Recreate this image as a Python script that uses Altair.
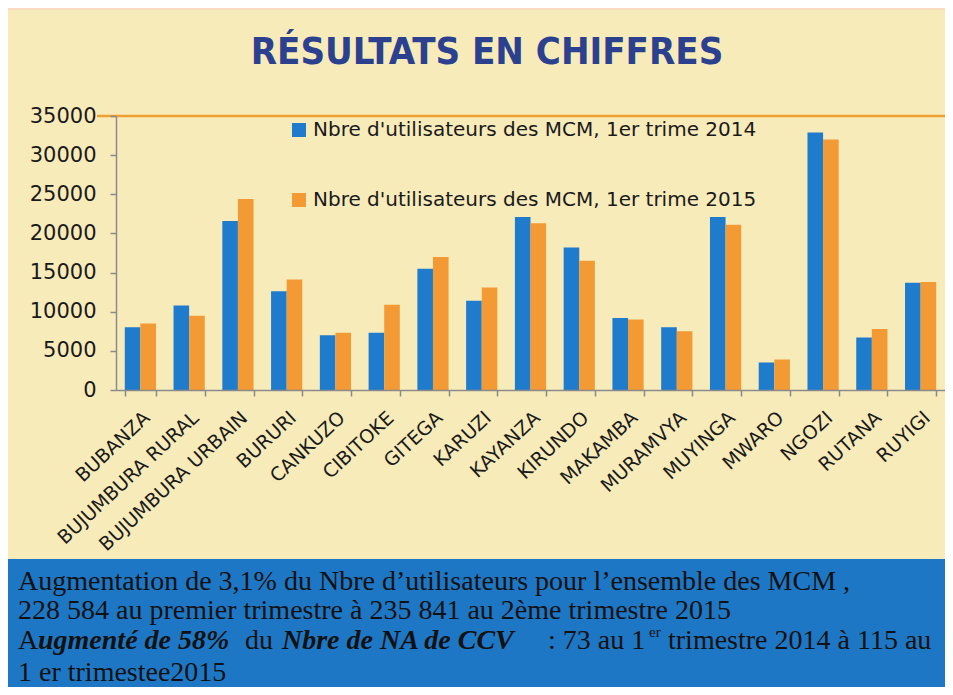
import altair as alt
import pandas as pd

# ---------------- data ----------------
REGIONS = ["BUBANZA", "BUJUMBURA RURAL", "BUJUMBURA URBAIN", "BURURI", "CANKUZO",
           "CIBITOKE", "GITEGA", "KARUZI", "KAYANZA", "KIRUNDO", "MAKAMBA",
           "MURAMVYA", "MUYINGA", "MWARO", "NGOZI", "RUTANA", "RUYIGI"]
USERS_2014 = [8000, 10800, 21600, 12600, 7000, 7300, 15500, 11400, 22100, 18200,
              9200, 8000, 22100, 3500, 32900, 6700, 13700]
USERS_2015 = [8500, 9500, 24400, 14100, 7300, 10900, 17000, 13100, 21300, 16500,
              9000, 7500, 21100, 3900, 32000, 7800, 13800]
SERIES = ["Nbre d'utilisateurs des MCM, 1er trime 2014",
          "Nbre d'utilisateurs des MCM, 1er trime 2015"]
Y_TICKS = [0, 5000, 10000, 15000, 20000, 25000, 30000, 35000]
TOP_LINE = [35000]

TITLE = "RÉSULTATS EN CHIFFRES"
NOTE_LINE1 = "Augmentation de 3,1% du Nbre d’utilisateurs pour l’ensemble des MCM ,"
NOTE_LINE2 = "228 584 au premier trimestre à 235 841 au 2ème trimestre 2015"
NOTE_LINE3 = ["A", "ugmenté de 58%", "du", "Nbre de NA  de CCV", ": 73 au 1", "er",
              "trimestre 2014 à 115 au"]
NOTE_LINE4 = "1 er trimestee2015"

# ---------------- style ----------------
BLUE = "#1F7BCB"
ORANGE = "#F39A34"
PANEL = "#F8EBBA"
PEACH = "#FCDCC0"
BOX = "#1E77C4"
TITLE_COLOR = "#2B4190"
SANS = "DejaVu Sans"
SERIF = "Liberation Serif, Times New Roman, serif"

W, H = 829, 274
PAD_L, PAD_T = 108, 108
TOTAL_W, TOTAL_H = 937, 679

rows = []
for r, a, b in zip(REGIONS, USERS_2014, USERS_2015):
    rows.append({"region": r, "serie": SERIES[0], "value": a})
    rows.append({"region": r, "serie": SERIES[1], "value": b})
df = pd.DataFrame(rows)

one = pd.DataFrame({"k": [0]})

Y_SCALE = alt.Scale(domain=[0, 35000], nice=False)
Y_AXIS = alt.Axis(title=None, values=Y_TICKS, format="d", grid=False,
                  labelFont=SANS, labelFontSize=21, labelColor="#1a1a1a",
                  labelPadding=14, labelOverlap=False, tickSize=6,
                  tickColor="#8a8a8a", domainColor="#8a8a8a",
                  domainWidth=1.5, tickWidth=1.5, zindex=1)

bg = alt.Chart(one).mark_rect(color=PANEL).encode(
    x=alt.value(-110), x2=alt.value(840), y=alt.value(-106), y2=alt.value(443))
box = alt.Chart(one).mark_rect(color=BOX).encode(
    x=alt.value(-110), x2=alt.value(840), y=alt.value(443), y2=alt.value(580))

bars = alt.Chart(df).mark_bar().encode(
    x=alt.X("region:N", sort=REGIONS,
            scale=alt.Scale(paddingInner=0.36, paddingOuter=0.18),
            axis=alt.Axis(title=None, labelAngle=-43, labelFont=SANS, labelFontSize=19,
                          labelColor="#1a1a1a", labelPadding=12, tickBand="extent",
                          tickSize=6, tickColor="#8a8a8a", domainColor="#8a8a8a",
                          domainWidth=1.5, tickWidth=1.5, labelLimit=400,
                          labelOverlap=False, zindex=1)),
    xOffset=alt.XOffset("serie:N", sort=SERIES),
    y=alt.Y("value:Q", scale=Y_SCALE, axis=Y_AXIS),
    color=alt.Color("serie:N", sort=SERIES,
                    scale=alt.Scale(domain=SERIES, range=[BLUE, ORANGE]),
                    legend=alt.Legend(orient="none", legendX=173, legendY=4, title=None,
                                      symbolType="square", symbolSize=196,
                                      symbolStrokeWidth=0, labelFont=SANS,
                                      labelFontSize=20, labelColor="#1a1a1a",
                                      rowPadding=50, labelLimit=700, padding=0,
                                      labelOffset=4)),
)

top_rule = alt.Chart(pd.DataFrame({"value": TOP_LINE})).mark_rule(
    color="#EFA030", strokeWidth=2.5).encode(
    y=alt.Y("value:Q", scale=Y_SCALE, axis=Y_AXIS), x=alt.value(-19), x2=alt.value(W))


def txt(text, x, y, size, font=SERIF, style="normal", weight="normal",
        color="#111111", align="left"):
    return alt.Chart(pd.DataFrame({"t": [text]})).mark_text(
        font=font, fontSize=size, fontStyle=style, fontWeight=weight, color=color,
        align=align, baseline="alphabetic").encode(
        text="t:N", x=alt.value(x), y=alt.value(y))


title = txt(TITLE, 371, -52, 38, font="Liberation Sans Narrow, DejaVu Sans Condensed, Roboto",
            weight="bold", color=TITLE_COLOR, align="center")

NS = 28
notes = [
    txt(NOTE_LINE1, -98, 474, NS),
    txt(NOTE_LINE2, -98, 503, NS),
    txt(NOTE_LINE3[0], -98, 533, NS),
    txt(NOTE_LINE3[1], -78, 533, NS, style="italic", weight="bold"),
    txt(NOTE_LINE3[2], 129, 533, NS),
    txt(NOTE_LINE3[3], 166, 533, NS, style="italic", weight="bold"),
    txt(NOTE_LINE3[4], 432, 533, NS),
    txt(NOTE_LINE3[5], 533, 521, 15),
    txt(NOTE_LINE3[6], 552, 533, NS),
    txt(NOTE_LINE4, -98, 565, NS),
]

chart = alt.layer(bg, box, bars, top_rule, title, *notes).properties(
    width=W, height=H,
    autosize=alt.AutoSizeParams(type="none"),
    padding={"left": PAD_L, "top": PAD_T, "right": TOTAL_W - PAD_L - W,
             "bottom": TOTAL_H - PAD_T - H},
    background=PEACH,
).configure_view(stroke=None)

chart.save("out.html", embed_options={"renderer": "svg", "actions": False})
